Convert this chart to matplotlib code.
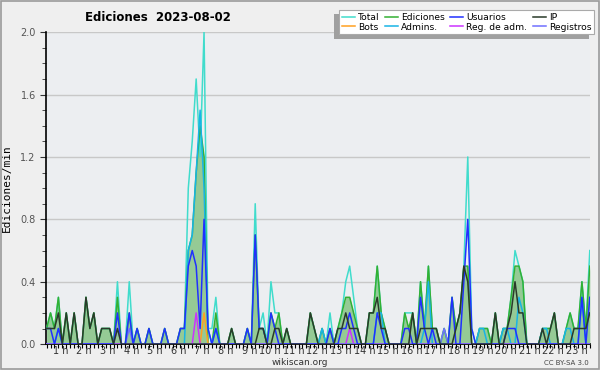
import numpy as np
import matplotlib
matplotlib.use("Agg")
import matplotlib.pyplot as plt
from matplotlib.patches import Rectangle

# edits per 10-minute bin, bins start at 00:05 (one bin every 10 min)
ediciones = [1, 2, 1, 3, 0, 2, 0, 2, 0, 0, 3, 1,
             2, 0, 1, 1, 1, 0, 3, 0, 0, 2, 0, 1,
             0, 0, 1, 0, 0, 0, 1, 0, 0, 0, 1, 1,
             6, 7, 11, 14, 12, 0, 0, 2, 0, 0, 0, 1,
             0, 0, 0, 1, 0, 7, 1, 1, 0, 2, 1, 2,
             0, 1, 0, 0, 0, 0, 0, 2, 1, 0, 1, 0,
             1, 0, 1, 2, 3, 3, 2, 1, 0, 0, 2, 2,
             5, 2, 1, 0, 0, 0, 0, 2, 1, 2, 0, 4,
             1, 5, 1, 1, 0, 1, 0, 3, 1, 2, 5, 5,
             0, 0, 1, 1, 1, 0, 2, 0, 1, 1, 3, 5,
             5, 4, 0, 0, 0, 0, 1, 1, 1, 2, 0, 0,
             1, 2, 1, 1, 4, 1, 5]

total = [1, 2, 1, 3, 0, 2, 0, 2, 0, 0, 3, 1,
         2, 0, 1, 1, 1, 0, 4, 0, 0, 4, 0, 1,
         0, 0, 1, 0, 0, 0, 1, 0, 0, 0, 1, 1,
         10, 13, 17, 12, 20, 1, 1, 3, 0, 0, 0, 1,
         0, 0, 0, 1, 0, 9, 1, 2, 0, 4, 2, 2,
         0, 1, 0, 0, 0, 0, 0, 2, 1, 0, 1, 0,
         2, 0, 1, 2, 4, 5, 3, 1, 0, 0, 2, 2,
         5, 2, 1, 0, 0, 0, 0, 2, 2, 2, 0, 4,
         1, 5, 1, 1, 0, 1, 0, 3, 1, 2, 5, 12,
         1, 0, 1, 1, 1, 0, 2, 0, 1, 1, 3, 6,
         5, 4, 0, 0, 0, 0, 1, 1, 1, 2, 0, 0,
         1, 2, 1, 1, 4, 1, 6]

usuarios = [1, 1, 0, 1, 0, 0, 0, 0, 0, 0, 0, 0,
            0, 0, 0, 0, 0, 0, 2, 0, 0, 2, 0, 1,
            0, 0, 1, 0, 0, 0, 1, 0, 0, 0, 1, 1,
            5, 6, 5, 1, 8, 1, 0, 1, 0, 0, 0, 0,
            0, 0, 0, 1, 0, 7, 1, 1, 0, 2, 1, 0,
            0, 0, 0, 0, 0, 0, 0, 0, 0, 0, 0, 0,
            1, 0, 0, 1, 1, 2, 1, 0, 0, 0, 0, 0,
            2, 1, 0, 0, 0, 0, 0, 1, 1, 0, 0, 3,
            1, 0, 1, 0, 0, 0, 0, 3, 0, 0, 4, 8,
            1, 0, 0, 0, 0, 0, 0, 0, 0, 1, 1, 1,
            0, 0, 0, 0, 0, 0, 0, 0, 0, 0, 0, 0,
            0, 0, 0, 0, 3, 0, 3]

ip = [1, 1, 1, 2, 0, 2, 0, 2, 0, 0, 3, 1,
      2, 0, 1, 1, 1, 0, 1, 0, 0, 0, 0, 0,
      0, 0, 0, 0, 0, 0, 0, 0, 0, 0, 0, 0,
      0, 0, 0, 0, 0, 0, 0, 0, 0, 0, 0, 1,
      0, 0, 0, 0, 0, 0, 1, 1, 0, 0, 1, 1,
      0, 1, 0, 0, 0, 0, 0, 2, 1, 0, 0, 0,
      0, 0, 1, 1, 2, 1, 1, 1, 0, 0, 2, 2,
      3, 1, 1, 0, 0, 0, 0, 0, 0, 2, 0, 1,
      1, 1, 1, 1, 0, 0, 0, 0, 1, 2, 5, 4,
      0, 0, 0, 0, 0, 0, 2, 0, 0, 1, 2, 4,
      2, 2, 0, 0, 0, 0, 1, 0, 1, 2, 0, 0,
      0, 0, 1, 1, 1, 1, 2]

admins = [0, 0, 0, 1, 0, 0, 0, 0, 0, 0, 0, 0,
          0, 0, 0, 0, 0, 0, 0, 0, 0, 0, 0, 0,
          0, 0, 0, 0, 0, 0, 0, 0, 0, 0, 0, 0,
          6, 7, 11, 15, 10, 1, 0, 1, 0, 0, 0, 0,
          0, 0, 0, 0, 0, 0, 0, 0, 0, 0, 0, 0,
          0, 0, 0, 0, 0, 0, 0, 0, 0, 0, 1, 0,
          0, 0, 0, 0, 0, 0, 0, 0, 0, 0, 0, 0,
          2, 2, 0, 0, 0, 0, 0, 0, 0, 0, 0, 0,
          1, 4, 0, 0, 0, 0, 0, 0, 0, 0, 0, 0,
          0, 0, 1, 1, 0, 0, 0, 0, 1, 1, 0, 0,
          3, 2, 0, 0, 0, 0, 1, 1, 0, 0, 0, 0,
          1, 1, 0, 0, 3, 0, 0]

# sparse series: {bin: edits}
bots = {40: 2}
reg_adm = {38: 2, 77: 1}
registros = {18: 1, 21: 1, 101: 1}

hours = list(range(1, 24))
hour_labels = [f"{h} h" for h in hours]

n = len(ediciones)
t = 5 + 10 * np.arange(n)  # minutes of the day


def per_min(vals):
    if isinstance(vals, dict):
        arr = np.zeros(n)
        for k, v in vals.items():
            arr[k] = v
        return arr / 10
    return np.array(vals) / 10


fig = plt.figure(figsize=(6, 3.7), dpi=100, facecolor="#efefef")
fig.patches.append(Rectangle((0.001, 0.002), 0.997, 0.995, transform=fig.transFigure,
                             fill=False, edgecolor="#9a9a9a", lw=1.2))
# legend shadow (offset down-left from the legend box)
fig.patches.append(Rectangle((0.557, 0.8946), 0.425, 0.0676, transform=fig.transFigure,
                             facecolor="#a0a0a0", edgecolor="none"))
ax = fig.add_axes([0.077, 0.070, 0.906, 0.843])
ax.set_facecolor("#eceef1")

lw = 1.1
ax.plot(t, per_min(total), color="#40dccc", lw=lw, label="Total", zorder=3)
ax.fill_between(t, per_min(ediciones), color="#90c890", alpha=0.95, lw=0, zorder=2)
ax.plot(t, per_min(ediciones), color="#33b033", lw=lw, label="Ediciones", zorder=4)
ax.plot(t, per_min(bots), color="#ffa020", lw=lw, label="Bots", zorder=4)
ax.plot(t, per_min(admins), color="#18b4e6", lw=lw, label="Admins.", zorder=5)
ax.plot(t, per_min(reg_adm), color="#cc33ff", lw=lw, label="Reg. de adm.", zorder=5)
ax.plot(t, per_min(registros), color="#7070ff", lw=lw, label="Registros", zorder=5)
ax.plot(t, per_min(usuarios), color="#2030ff", lw=lw, label="Usuarios", zorder=6)
ax.plot(t, per_min(ip), color="#2a3a2a", lw=lw, label="IP", zorder=6)

ax.set_xlim(4, 1385)
ax.set_ylim(0, 2.0)

ax.set_yticks(np.arange(0, 2.01, 0.4))
ax.set_yticklabels([f"{v:.1f}" for v in np.arange(0, 2.01, 0.4)])
ax.set_yticks(np.arange(0, 2.01, 0.1), minor=True)
ax.yaxis.grid(True, which="major", color="#c8c8c8", lw=1)
ax.set_axisbelow(True)

ax.set_xticks([h * 60 for h in hours])
ax.set_xticklabels(hour_labels, ha="right")
ax.set_xticks(t, minor=True)
ax.tick_params(axis="x", which="major", length=0, pad=1.5, labelsize=7, labelcolor="#333333")
ax.tick_params(axis="x", which="minor", length=3, width=0.8)
ax.tick_params(axis="y", which="major", length=4, labelsize=7, labelcolor="#555555", color="#333333")
ax.tick_params(axis="y", which="minor", length=3, color="#333333")

for s in ["top", "right"]:
    ax.spines[s].set_visible(False)
ax.spines["left"].set_linewidth(1.2)
ax.spines["bottom"].set_linewidth(1.2)

ax.set_ylabel("Ediciones/min", family="DejaVu Sans Mono", fontsize=8, labelpad=6)

fig.text(0.142, 0.953, "Ediciones  2023-08-02", fontsize=8.5, fontweight="bold", va="center")
fig.text(0.50, 0.020, "wikiscan.org", fontsize=6.5, ha="center", va="center", color="#333333")
fig.text(0.982, 0.018, "CC BY-SA 3.0", fontsize=5, ha="right", va="center", color="#444444")

handles, labels = ax.get_legend_handles_labels()
order = ["Total", "Bots", "Ediciones", "Admins.", "Usuarios", "Reg. de adm.", "IP", "Registros"]
hmap = dict(zip(labels, handles))
leg = fig.legend([hmap[k] for k in order], order, ncol=4, loc="upper right",
                 bbox_to_anchor=(0.993, 0.978), fontsize=6.6, frameon=True, fancybox=False,
                 shadow=False, handlelength=1.4, handletextpad=0.35, columnspacing=0.6,
                 labelspacing=0.1, borderpad=0.3, borderaxespad=0.2, framealpha=1)
leg.get_frame().set_edgecolor("#aaaaaa")
leg.get_frame().set_linewidth(0.8)
leg.set_zorder(10)

fig.savefig("out.png", dpi=100, facecolor=fig.get_facecolor())
